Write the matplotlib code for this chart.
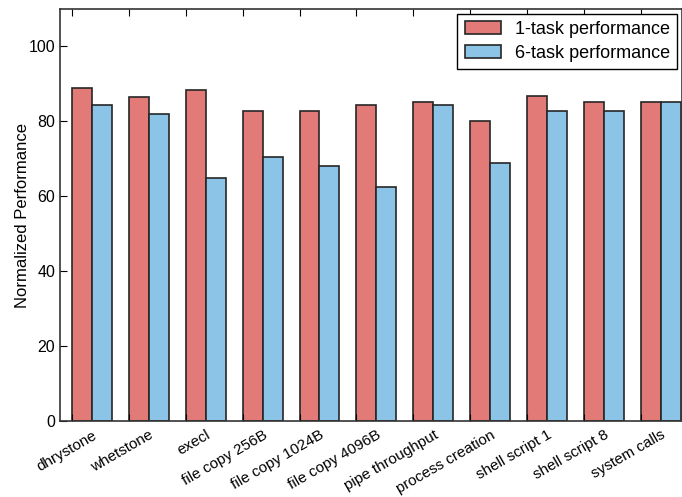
import matplotlib
matplotlib.use("Agg")
import matplotlib.pyplot as plt
import numpy as np

plt.rcParams['font.family'] = ['Liberation Sans', 'DejaVu Sans']

categories = ["dhrystone", "whetstone", "execl", "file copy 256B", "file copy 1024B",
              "file copy 4096B", "pipe throughput", "process creation", "shell script 1",
              "shell script 8", "system calls"]
one_task = [89.0, 86.6, 88.3, 82.8, 82.9, 84.3, 85.2, 80.2, 86.8, 85.2, 85.3]
six_task = [84.3, 82.0, 64.8, 70.5, 68.2, 62.4, 84.3, 68.8, 82.8, 82.8, 85.3]
series_labels = ["1-task performance", "6-task performance"]
yticks = [0, 20, 40, 60, 80, 100]

red = '#E27B78'
blue = '#8BC4E7'
edge = '#262626'

fig = plt.figure(figsize=(6.82, 4.97), dpi=100)
ax = fig.add_axes([60/682, 1-421/497, 1-60/682, (421-9)/497])

x = np.arange(len(categories))
w = 0.35
ax.bar(x, one_task, w, align='edge', color=red, edgecolor=edge, linewidth=1.2, label=series_labels[0])
ax.bar(x + w, six_task, w, align='edge', color=blue, edgecolor=edge, linewidth=1.2, label=series_labels[1])

ax.set_xlim(-0.21, 10.72)
ax.set_ylim(0, 110)
ax.set_yticks(yticks)
ax.set_xticks(x)
ax.set_xticklabels([])
ax.set_xticks(x + w, minor=True)
ax.set_xticklabels(categories, minor=True, rotation=30, ha='right', va='top',
                   rotation_mode='anchor', fontsize=11)
ax.tick_params(axis='both', which='major', direction='in', top=True, right=False, length=5, width=0.8, labelsize=11.5)
ax.tick_params(axis='x', which='minor', length=0, pad=5)
ax.set_ylabel("Normalized Performance", fontsize=12)
ax.yaxis.set_label_coords(-0.048, 0.5)
for s in ax.spines.values():
    s.set_color('#333333')
    s.set_linewidth(1.2)

leg = ax.legend(loc='upper right', fontsize=13, fancybox=False, framealpha=1,
                edgecolor='black', handlelength=2.0, handleheight=0.7,
                borderaxespad=0.25, labelspacing=0.4, borderpad=0.4)
leg.get_frame().set_linewidth(1.0)

fig.savefig("out.png", dpi=100)
